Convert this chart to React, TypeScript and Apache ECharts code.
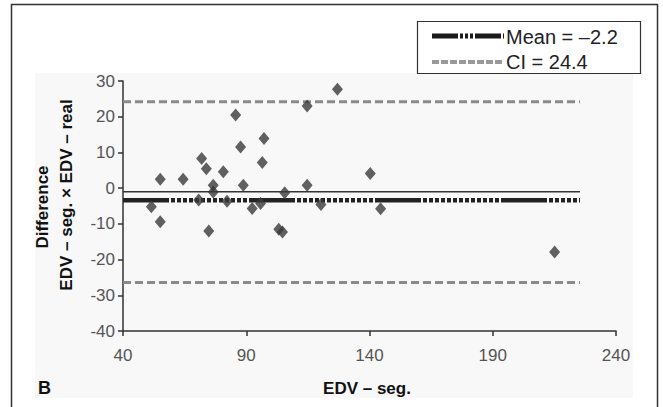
import React, { useEffect, useRef } from "react";
import * as echarts from "echarts";

const xTicks = [40, 90, 140, 190, 240];
const yTicks = [-40, -30, -20, -10, 0, 10, 20, 30];
const xValues = [51.5, 55.1, 55.1, 64.4, 71.9, 73.8, 70.7, 74.8, 76.6, 76.6, 80.7, 82.2, 85.7, 87.7, 88.8, 92.4, 95.8, 96.5, 97.2, 103.2, 104.7, 105.6, 114.7, 114.7, 120.3, 127.0, 140.3, 144.5, 215.1];
const yValues = [-5.2, 2.5, -9.4, 2.5, 8.3, 5.4, -3.3, -12.0, 0.8, -1.1, 4.6, -3.7, 20.5, 11.5, 0.8, -5.7, -4.3, 7.2, 13.9, -11.5, -12.3, -1.3, 23.0, 0.8, -4.6, 27.7, 4.1, -5.8, -17.9];
const lineRange = [40, 225.4];
const meanValue = -3.4;
const refValue = -1.0;
const ciUpper = 24.2;
const ciLower = -26.4;
const legendLabels = ["Mean = \u20132.2", "CI = 24.4"];
const xName = "EDV \u2013 seg.";
const yNameLines = ["Difference", "EDV \u2013 seg. \u00d7 EDV \u2013 real"];
const panelLabel = "B";

const FONT = "'Liberation Sans Narrow', 'Liberation Sans', Arial, sans-serif";
const meanDash = [46, 2, 4, 2, 4, 2, 4, 2, 4, 2, 4, 2, 4, 2, 4, 2, 4, 2, 4, 2, 4, 2, 4, 2, 4, 2, 4, 2];

export default function App() {
  const ref = useRef<HTMLDivElement>(null);
  useEffect(() => {
    document.body.style.margin = "0";
    const chart = echarts.init(ref.current!, null, { renderer: "svg" });
    const points = xValues.map((x, i) => [x, yValues[i]]);
    const hline = (v: number) => lineRange.map((x) => [x, v]);
    chart.setOption({
      animation: false,
      backgroundColor: "#ffffff",
      grid: { left: 123, right: 47, top: 81, bottom: 76 },
      xAxis: {
        type: "value",
        min: xTicks[0],
        max: xTicks[xTicks.length - 1],
        interval: 50,
        axisLine: { show: true, onZero: false, lineStyle: { color: "#333", width: 1.5 } },
        axisTick: { show: true, length: 5, lineStyle: { color: "#333", width: 1.5 } },
        axisLabel: { color: "#555", fontSize: 17, fontFamily: FONT, margin: 16 },
        splitLine: { show: false },
      },
      yAxis: {
        type: "value",
        min: yTicks[0],
        max: yTicks[yTicks.length - 1],
        interval: 10,
        axisLine: { show: true, onZero: false, lineStyle: { color: "#333", width: 1.5 } },
        axisTick: { show: true, length: 5, lineStyle: { color: "#333", width: 1.5 } },
        axisLabel: { color: "#555", fontSize: 17, fontFamily: FONT, margin: 8 },
        splitLine: { show: false },
      },
      graphic: [
        { type: "rect", z: -10, shape: { x: 35, y: 73, width: 598, height: 325 }, style: { fill: "#f8f8f8" }, silent: true },
        { type: "polyline", shape: { points: [[11.5, 410], [11.5, 4.5], [657.5, 4.5], [657.5, 410]] }, style: { stroke: "#333", lineWidth: 1.5, fill: null } },
        { type: "rect", shape: { x: 417.5, y: 21.5, width: 223, height: 52 }, style: { fill: "#fff", stroke: "#333", lineWidth: 1.2 } },
        { type: "line", shape: { x1: 432, y1: 36, x2: 504, y2: 36 }, style: { stroke: "#1a1a1a", lineWidth: 5, lineDash: [26, 2, 3, 2, 3, 2, 3, 2] } },
        { type: "text", x: 506, y: 37, style: { text: legendLabels[0], fill: "#222", fontSize: 20, fontFamily: FONT, align: "left", verticalAlign: "middle" } },
        { type: "line", shape: { x1: 432, y1: 62, x2: 504, y2: 62 }, style: { stroke: "#999", lineWidth: 4, lineDash: [7, 2] } },
        { type: "text", x: 506, y: 62, style: { text: legendLabels[1], fill: "#222", fontSize: 20, fontFamily: FONT, align: "left", verticalAlign: "middle" } },
        { type: "text", x: 42, y: 207, rotation: Math.PI / 2, style: { text: yNameLines[0], fill: "#111", fontSize: 17, fontWeight: "bold", fontFamily: FONT, align: "center", verticalAlign: "middle" } },
        { type: "text", x: 66, y: 195, rotation: Math.PI / 2, style: { text: yNameLines[1], fill: "#111", fontSize: 17, fontWeight: "bold", fontFamily: FONT, align: "center", verticalAlign: "middle" } },
        { type: "text", x: 367, y: 388, style: { text: xName, fill: "#111", fontSize: 17, fontWeight: "bold", fontFamily: FONT, align: "center", verticalAlign: "middle" } },
        { type: "text", x: 38, y: 388, style: { text: panelLabel, fill: "#111", fontSize: 18, fontWeight: "bold", fontFamily: FONT, align: "left", verticalAlign: "middle" } },
      ],
      series: [
        { type: "line", data: hline(ciUpper), symbol: "none", lineStyle: { color: "#8a8a8a", width: 3, type: [8, 4] }, z: 2 },
        { type: "line", data: hline(ciLower), symbol: "none", lineStyle: { color: "#8a8a8a", width: 3, type: [8, 4] }, z: 2 },
        { type: "line", data: hline(refValue), symbol: "none", lineStyle: { color: "#333", width: 1.5 }, z: 2 },
        { type: "line", data: hline(meanValue), symbol: "none", lineStyle: { color: "#222", width: 4.5, type: meanDash }, z: 2 },
        { type: "scatter", data: points, symbol: "diamond", symbolSize: [11, 13], itemStyle: { color: "#3a3a3a" }, z: 3 },
      ],
    });
    return () => chart.dispose();
  }, []);
  return <div ref={ref} style={{ width: 663, height: 407 }} />;
}
